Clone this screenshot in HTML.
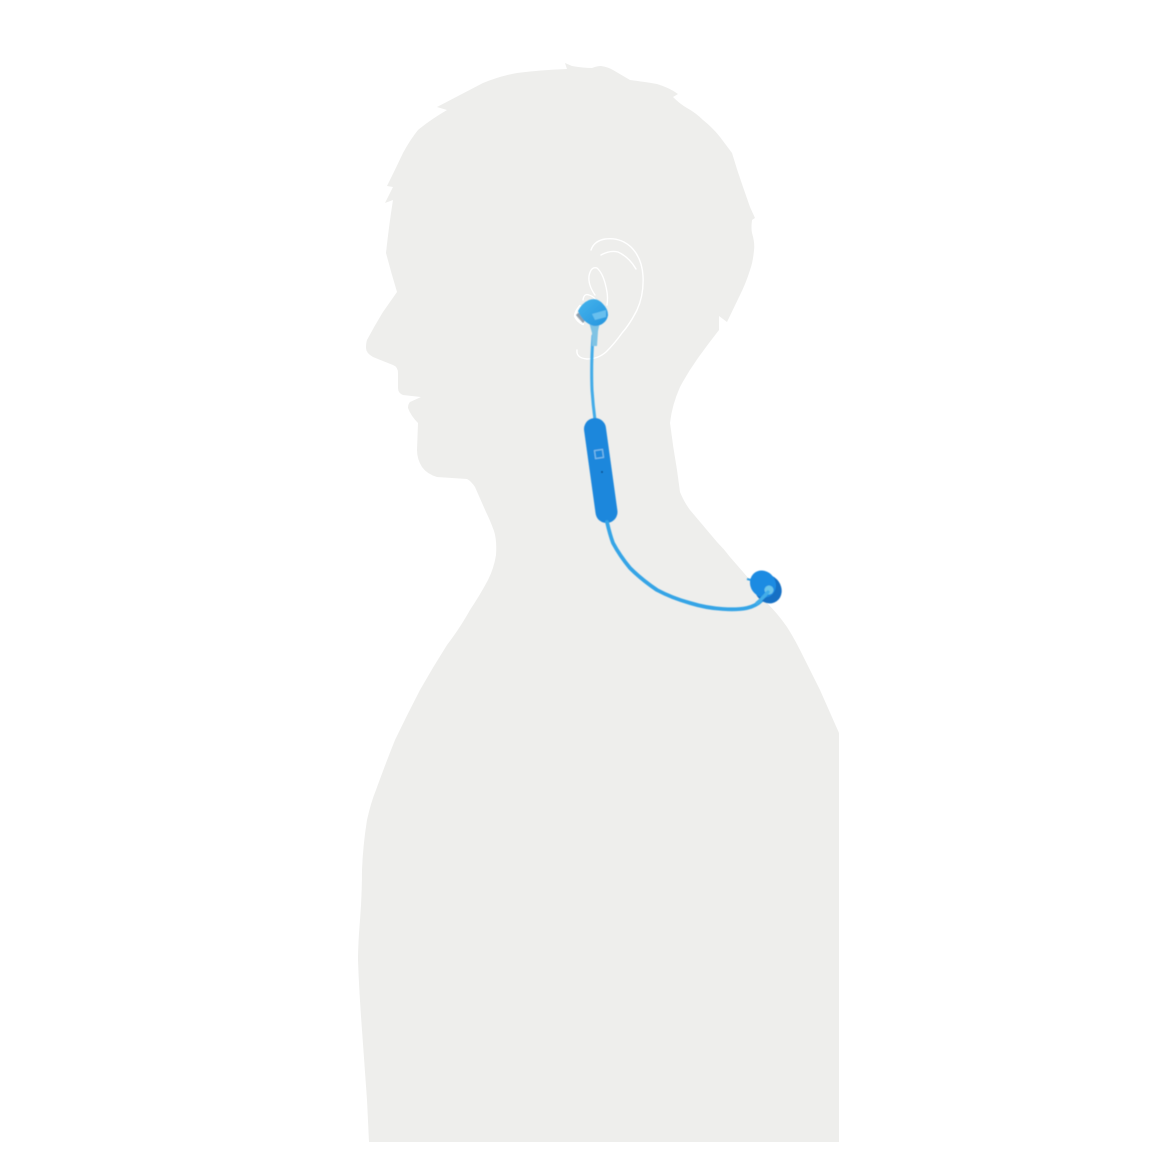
<!DOCTYPE html>
<html lang="en">
<head>
<meta charset="utf-8">
<title>Earphones worn on silhouette</title>
<style>
html,body{margin:0;padding:0;background:#fff;width:1150px;height:1150px;overflow:hidden}
svg{display:block}
</style>
</head>
<body>
<svg xmlns="http://www.w3.org/2000/svg" width="1150" height="1150" viewBox="0 0 1150 1150">
  <defs>
    <filter id="soft" x="-10%" y="-10%" width="120%" height="120%"><feGaussianBlur stdDeviation="0.4"/></filter>
    <linearGradient id="budGrad" x1="0" y1="0" x2="1" y2="1">
      <stop offset="0" stop-color="#45b4ec"/>
      <stop offset="1" stop-color="#2594de"/>
    </linearGradient>
  </defs>
  <rect x="0" y="0" width="1150" height="1150" fill="#ffffff"/>
  <path fill="#eeeeec" d="M565 63 L572 66 Q583 68 592 68 Q597 66 601 66 Q608 67 613 70 L630 80 Q645 82 657 84 Q670 88 678 94 L673 97 Q680 104 687 108 Q696 113 703 120 Q713 128 720 137 L732 153 Q737 170 743 187 L750 207 L755 218 L752 220 Q751 228 752 233 Q755 243 754 250 Q753 262 750 270 Q746 283 740 295 L727 322 L719 316 L719 330 Q708 344 698 358 Q688 372 680 387 Q672 405 670 423 Q673 447 677 470 L680 492 Q684 502 690 510 L717 542 Q724 549 730 557 L750 580 L767 603 Q778 614 787 627 Q794 638 800 650 L820 690 L839 733 L839 1142 L369 1142 Q368 1120 367 1100 L362 1030 Q359 990 358 960 Q358 945 360 920 Q362 895 362 870 Q363 845 367 820 Q371 802 376 790 Q385 765 395 740 Q407 715 420 690 Q433 667 447 645 Q460 628 470 610 Q480 595 488 580 Q494 568 496 555 Q497 540 494 531 Q490 520 486 512 L475 487 Q471 481 467 479 L437 477 Q427 474 422 467 Q417 459 417 450 L418 423 Q411 416 408 408 Q408 404 410 402 L421 397 L403 395 Q398 393 398 388 L398 373 Q398 367 393 365 L373 357 Q366 353 366 348 Q366 343 367 340 Q375 325 383 312 L397 292 Q391 272 386 253 Q389 225 393 200 L385 203 L393 187 L387 186 Q395 170 403 153 Q410 140 418 130 Q430 120 447 110 L437 107 Q460 95 483 83 Q500 76 517 73 Q540 70 567 69 Z"/>
  <g fill="none" stroke="#ffffff" stroke-width="1.4" stroke-linecap="round" stroke-linejoin="round">
    <path d="M591 250 Q594 241 605 239 Q620 237 631 247 Q642 258 643 276 Q644 295 637 310 Q630 324 622 333 Q615 343 606 352 Q598 359 587 359 Q576 358 577 350"/>
    <path d="M601 255 Q610 250 618 252 Q629 257 636 269"/>
    <path d="M595 295 Q588 285 589 276 Q591 266 597 268 Q604 274 607 292 Q608 298 607 305"/>
    <path d="M583 300 Q584 293 589 295 Q593 296 596 300"/>
    <path stroke-width="2.4" d="M580 306 Q575 312 575 316 Q577 321 583 324"/>
  </g>
  <g filter="url(#soft)">
    <path fill="none" stroke="#42abe8" stroke-width="3" d="M593 335 Q591 365 592 390 Q593 405 595 420"/>
    <g>
      <path fill="#8f9fad" d="M583 309 L576 315 L583 323 L587 318 Z"/>
      <path fill="#7fc3e4" d="M589 322 L600 322 L598 331 L597 346 L592 346 L592 333 Z"/>
      <path fill="url(#budGrad)" d="M578 311 Q582 303 589 300 Q597 297 603 304 Q608 309 608 315 Q607 322 600 325 Q595 327 591 325 Q582 321 578 311 Z"/>
      <path fill="#68bfee" d="M592 314 L606 310 L606 317 L595 320 Z"/>
    </g>
    <g>
      <line x1="595" y1="429" x2="606.5" y2="512" stroke="#1e87dc" stroke-width="22" stroke-linecap="round"/>
      <rect x="595" y="450" width="8" height="8" fill="none" stroke="#7dbdec" stroke-width="1.2" transform="rotate(-8 599 454)"/>
      <circle cx="602" cy="472" r="1" fill="#0b4f8c"/>
    </g>
    <path fill="none" stroke="#36a4e6" stroke-width="3.8" stroke-linecap="round" d="M607 522 Q610 535 613 543 Q620 556 630 568 Q642 580 657 590 Q672 598 690 603 Q706 608 723 609 Q737 610 747 608 Q756 606 762 600"/>
    <g>
      <path fill="none" stroke="#2f9fe4" stroke-width="2" d="M747 579 L755 581"/>
      <ellipse cx="768" cy="589" rx="15" ry="13" fill="#1470c4" transform="rotate(55 768 589)"/>
      <ellipse cx="763" cy="584" rx="14" ry="12.5" fill="#1f8be2" transform="rotate(55 763 584)"/>
      <circle cx="769" cy="590" r="4.5" fill="#6cc5ea"/>
      <path fill="none" stroke="#43ade8" stroke-width="3.4" stroke-linecap="round" d="M757 603 Q763 598 768 592"/>
    </g>
  </g>
</svg>
</body>
</html>
